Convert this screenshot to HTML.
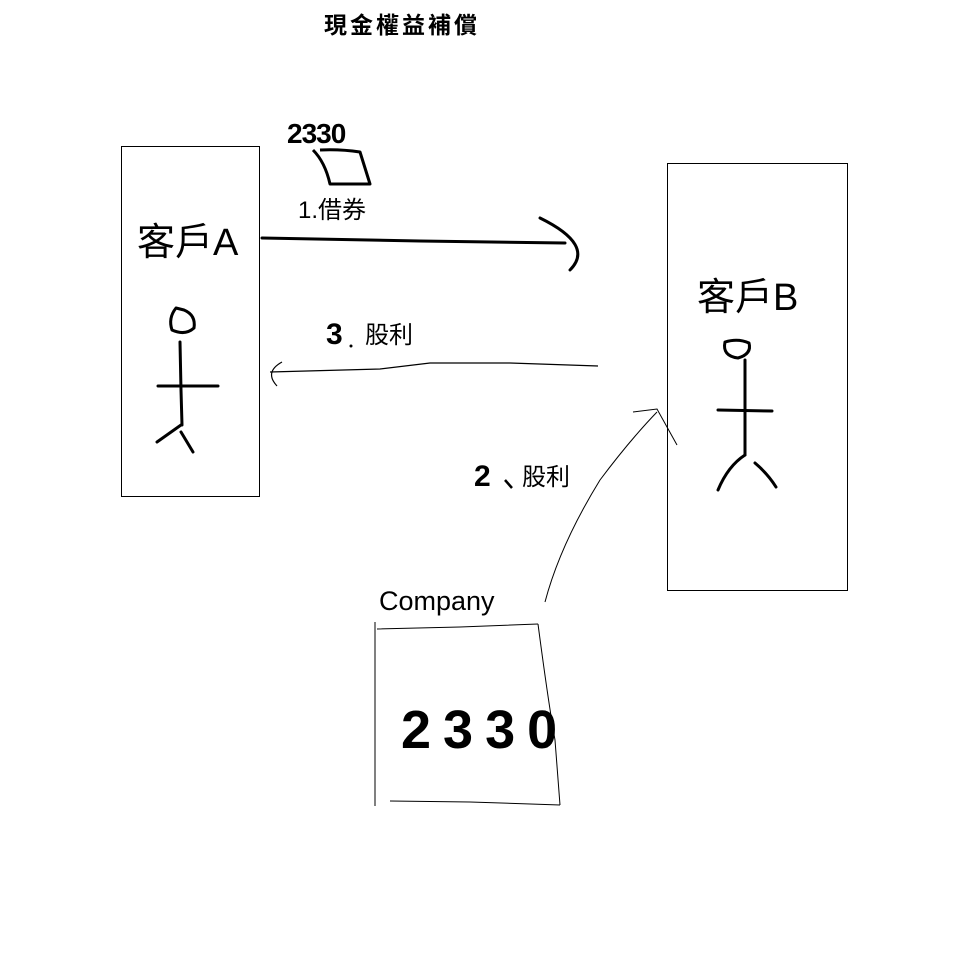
<!DOCTYPE html>
<html><head><meta charset="utf-8"><style>
html,body{margin:0;padding:0;background:#fff;width:968px;height:968px;overflow:hidden}
svg{display:block}
text{font-family:"Liberation Sans","Noto Sans CJK TC",sans-serif;fill:#000}
</style></head><body>
<svg width="968" height="968" viewBox="0 0 968 968" xmlns="http://www.w3.org/2000/svg">
<rect width="968" height="968" fill="#fff"/>
<text x="324" y="33" font-size="23" font-weight="bold" letter-spacing="3">現金權益補償</text>

<rect x="121.5" y="146.5" width="138" height="350" fill="none" stroke="#000" stroke-width="1"/>
<text x="137" y="255" font-size="38">客戶A</text>
<g fill="none" stroke="#000" stroke-width="3" stroke-linecap="round" stroke-linejoin="round">
<path d="M176,308 Q168,318 172,330 Q185,336 194,328 Q196,315 184,310 Z"/>
<path d="M180,342 L181,390 L182,425"/>
<path d="M158,386 L218,386"/>
<path d="M181,425 L157,442"/>
<path d="M181,432 L193,452"/>
</g>

<rect x="667.5" y="163.5" width="180" height="427" fill="none" stroke="#000" stroke-width="1"/>
<text x="697" y="310" font-size="38">客戶B</text>
<g fill="none" stroke="#000" stroke-width="3" stroke-linecap="round" stroke-linejoin="round">
<path d="M725,342 Q722,356 738,358 Q752,354 749,343 Q738,338 725,342 Z"/>
<path d="M745,360 L745,455"/>
<path d="M718,410 L772,411"/>
<path d="M745,455 Q728,466 718,490"/>
<path d="M755,463 Q768,474 776,487"/>
</g>

<text x="287" y="143" font-size="28" letter-spacing="-1" font-weight="bold">2330</text>
<path d="M313,150 Q325,162 330,184 L370,184 L360,152 Q340,149 320,150" fill="none" stroke="#000" stroke-width="3" stroke-linejoin="round"/>
<text x="298" y="218" font-size="24">1.借券</text>

<g fill="none" stroke="#000" stroke-width="3" stroke-linecap="round">
<path d="M262,238 L420,241 L565,243"/>
<path d="M540,218 Q595,245 570,270"/>
</g>

<text x="326" y="344" font-size="30" font-weight="bold">3</text>
<circle cx="351" cy="346" r="1.5" fill="#000"/>
<text x="365" y="343" font-size="24">股利</text>
<g fill="none" stroke="#000" stroke-width="1.2">
<path d="M598,366 L510,363 L430,363 L380,369 L270,372"/>
<path d="M282,362 Q264,372 277,386"/>
</g>

<text x="474" y="486" font-size="30" font-weight="bold">2</text>
<path d="M505,480 L512,488" stroke="#000" stroke-width="2.5"/>
<text x="522" y="485" font-size="24">股利</text>
<g fill="none" stroke="#000" stroke-width="1">
<path d="M545,602 Q560,545 600,480 Q630,440 657,412"/>
<path d="M633,412 L657,409 L677,445"/>
</g>

<text x="379" y="610" font-size="27">Company</text>
<g fill="none" stroke="#000" stroke-width="1">
<path d="M375,622 L375,806"/>
<path d="M377,629 L460,627 L538,624"/>
<path d="M538,624 Q548,700 555,740 L560,805"/>
<path d="M390,801 L470,802 L560,805"/>
</g>
<text x="401" y="748" font-size="54" font-weight="bold" letter-spacing="12">2330</text>
</svg>
</body></html>
